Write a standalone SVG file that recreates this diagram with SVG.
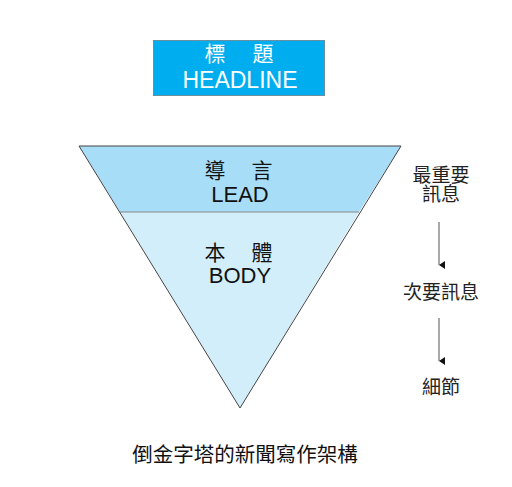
<svg xmlns="http://www.w3.org/2000/svg" width="512" height="487" viewBox="0 0 512 487">
<style>
.t{font-family:"Liberation Sans","Noto Sans CJK TC",sans-serif;text-anchor:middle}
.cjk{font-size:21px}
.lat{font-size:22px}
.sm{font-size:19px;fill:#222}
.edge{stroke:#555;stroke-width:1;fill:none}
</style>
<defs>
<marker id="ah" markerWidth="8" markerHeight="8" refX="4" refY="7" orient="auto" markerUnits="userSpaceOnUse">
<path d="M0,1 L8,1 L4,7 Z" fill="#111"/>
</marker>
</defs>
<rect width="512" height="487" fill="#fff"/>
<g id="headline">
<rect x="153.5" y="40.5" width="171" height="55" fill="#00AEEF" stroke="#6a8fa0" stroke-width="1"/>
<text class="t cjk" x="215" y="61" fill="#fff">標</text>
<text class="t cjk" x="263" y="61" fill="#fff">題</text>
<text class="t" x="240" y="88" fill="#fff" font-size="23">HEADLINE</text>
</g>
<g id="pyramid">
<polygon points="79,146 401,146 359,212 120,212" fill="#A8DDF7"/>
<polygon points="120,212 359,212 240,408" fill="#D3EEFB"/>
<line x1="120" y1="212" x2="359" y2="212" stroke="#888" stroke-width="1"/>
<polygon points="79,146 401,146 240,408" fill="none" stroke="#444" stroke-width="1"/>
</g>
<g id="lead">
<text class="t cjk" x="215" y="178" fill="#111">導</text>
<text class="t cjk" x="262" y="178" fill="#111">言</text>
<text class="t lat" x="240" y="202" fill="#111">LEAD</text>
</g>
<g id="body">
<text class="t cjk" x="215" y="260" fill="#111">本</text>
<text class="t cjk" x="262" y="260" fill="#111">體</text>
<text class="t lat" x="240" y="283" fill="#111">BODY</text>
</g>
<g id="label1">
<text class="t sm" x="441" y="182">最重要</text>
<text class="t sm" x="441" y="201">訊息</text>
</g>
<g id="label2">
<text class="t sm" x="441" y="299">次要訊息</text>
</g>
<g id="label3">
<text class="t sm" x="441" y="394">細節</text>
</g>
<g id="connectors">
<line class="edge" x1="439" y1="222" x2="439" y2="265" marker-end="url(#ah)"/>
<line class="edge" x1="439" y1="318" x2="439" y2="361" marker-end="url(#ah)"/>
</g>
<g id="caption">
<text class="t" x="245" y="462" font-size="20.5" fill="#111">倒金字塔的新聞寫作架構</text>
</g>
</svg>
